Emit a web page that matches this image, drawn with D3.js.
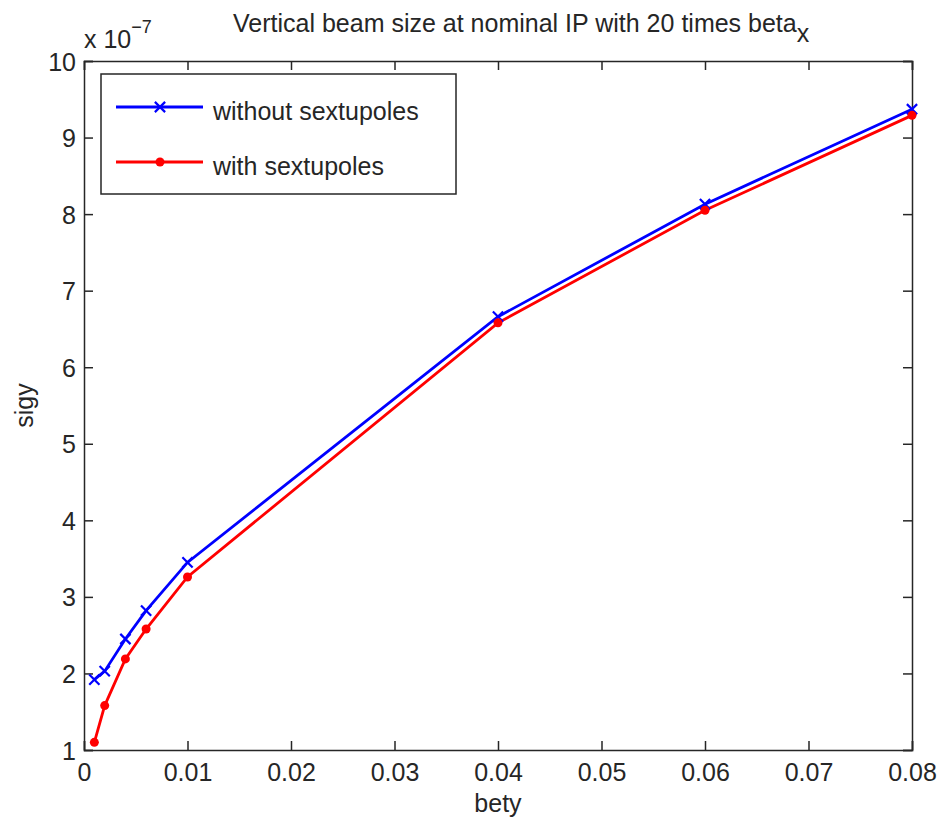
<!DOCTYPE html>
<html><head><meta charset="utf-8">
<script src="https://cdn.jsdelivr.net/npm/d3@7"></script>
<style>body{margin:0;background:#fff}text{font-family:"Liberation Sans",Arial,sans-serif;fill:#262626}</style>
</head><body><svg id="c" width="942" height="820"></svg>
<script>
const bety = [0.001, 0.002, 0.004, 0.006, 0.01, 0.04, 0.06, 0.08];
const withoutSext = [1.92, 2.03, 2.45, 2.82, 3.45, 6.66, 8.13, 9.37];
const withSext = [1.10, 1.58, 2.19, 2.58, 3.26, 6.58, 8.05, 9.29];
const xTicks = [0, 0.01, 0.02, 0.03, 0.04, 0.05, 0.06, 0.07, 0.08];
const yTicks = [1, 2, 3, 4, 5, 6, 7, 8, 9, 10];
const seriesNames = ["without sextupoles", "with sextupoles"];

const svg = d3.select("#c");
const L = 84, R = 912, T = 61, B = 750;
const x = d3.scaleLinear().domain([0, 0.08]).range([L, R]);
const y = d3.scaleLinear().domain([1, 10]).range([B, T]);
const ink = "#262626";
const FS = 25;

// axes
const ax = svg.append("g").attr("transform", `translate(0,${B})`)
  .call(d3.axisBottom(x).tickValues(xTicks).tickSize(-9).tickPadding(13).tickFormat(d3.format("")));
const axT = svg.append("g").attr("transform", `translate(0,${T})`)
  .call(d3.axisTop(x).tickValues(xTicks).tickSize(-9).tickFormat(""));
const ay = svg.append("g").attr("transform", `translate(${L},0)`)
  .call(d3.axisLeft(y).tickValues(yTicks).tickSize(-9).tickPadding(8).tickFormat(d3.format("d")));
const ayR = svg.append("g").attr("transform", `translate(${R},0)`)
  .call(d3.axisRight(y).tickValues(yTicks).tickSize(-9).tickFormat(""));
[ax, axT, ay, ayR].forEach(g => {
  g.selectAll("path").attr("stroke", ink).attr("stroke-width", 1.5);
  g.selectAll("line").attr("stroke", ink).attr("stroke-width", 1.5);
  g.selectAll("text").attr("font-size", FS).attr("fill", ink).attr("font-family", '"Liberation Sans",Arial,sans-serif');
});
ax.selectAll("text").attr("dy", "0.71em");
ay.selectAll("text").attr("dy", "0.36em");

// labels
svg.append("text").attr("x", x(0.04)).attr("y", 812).attr("text-anchor", "middle").attr("font-size", FS).text("bety");
svg.append("text").attr("transform", `translate(33,${(T + B) / 2}) rotate(-90)`).attr("text-anchor", "middle").attr("font-size", FS).text("sigy");
const ex = svg.append("text").attr("x", L).attr("y", 48).attr("font-size", FS);
ex.append("tspan").text("x 10");
ex.append("tspan").attr("dy", -15).attr("font-size", 18).text("\u22127");
const tt = svg.append("text").attr("x", 233).attr("y", 32).attr("font-size", FS);
tt.append("tspan").text("Vertical beam size at nominal IP with 20 times beta");
tt.append("tspan").attr("dy", 10).text("x");

// lines
const line = d3.line().x((d, i) => x(bety[i])).y(d => y(d));
svg.append("path").datum(withoutSext).attr("d", line).attr("fill", "none").attr("stroke", "#0000ff").attr("stroke-width", 2.8);
svg.append("path").datum(withSext).attr("d", line).attr("fill", "none").attr("stroke", "#ff0000").attr("stroke-width", 2.8);

const cross = d3.symbol().type(d3.symbolX).size(70);
svg.append("g").selectAll("path").data(withoutSext).join("path")
  .attr("transform", (d, i) => `translate(${x(bety[i])},${y(d)})`)
  .attr("d", cross).attr("fill", "none").attr("stroke", "#0000ff").attr("stroke-width", 2.2);
svg.append("g").selectAll("circle").data(withSext).join("circle")
  .attr("cx", (d, i) => x(bety[i])).attr("cy", d => y(d)).attr("r", 4.5).attr("fill", "#ff0000");

// legend
const lg = svg.append("g");
lg.append("rect").attr("x", 101).attr("y", 74).attr("width", 355).attr("height", 120)
  .attr("fill", "#fff").attr("stroke", ink).attr("stroke-width", 1.5);
const rows = [{c: "#0000ff", y: 107}, {c: "#ff0000", y: 162}];
rows.forEach((r, i) => {
  lg.append("line").attr("x1", 116).attr("x2", 203).attr("y1", r.y).attr("y2", r.y).attr("stroke", r.c).attr("stroke-width", 2.8);
  if (i === 0) lg.append("path").attr("transform", `translate(160,${r.y})`).attr("d", cross).attr("fill", "none").attr("stroke", r.c).attr("stroke-width", 2.2);
  else lg.append("circle").attr("cx", 160).attr("cy", r.y).attr("r", 4.5).attr("fill", r.c);
  lg.append("text").attr("x", 213).attr("y", r.y + 4).attr("dy", "0.36em").attr("font-size", FS).text(seriesNames[i]);
});
</script></body></html>
